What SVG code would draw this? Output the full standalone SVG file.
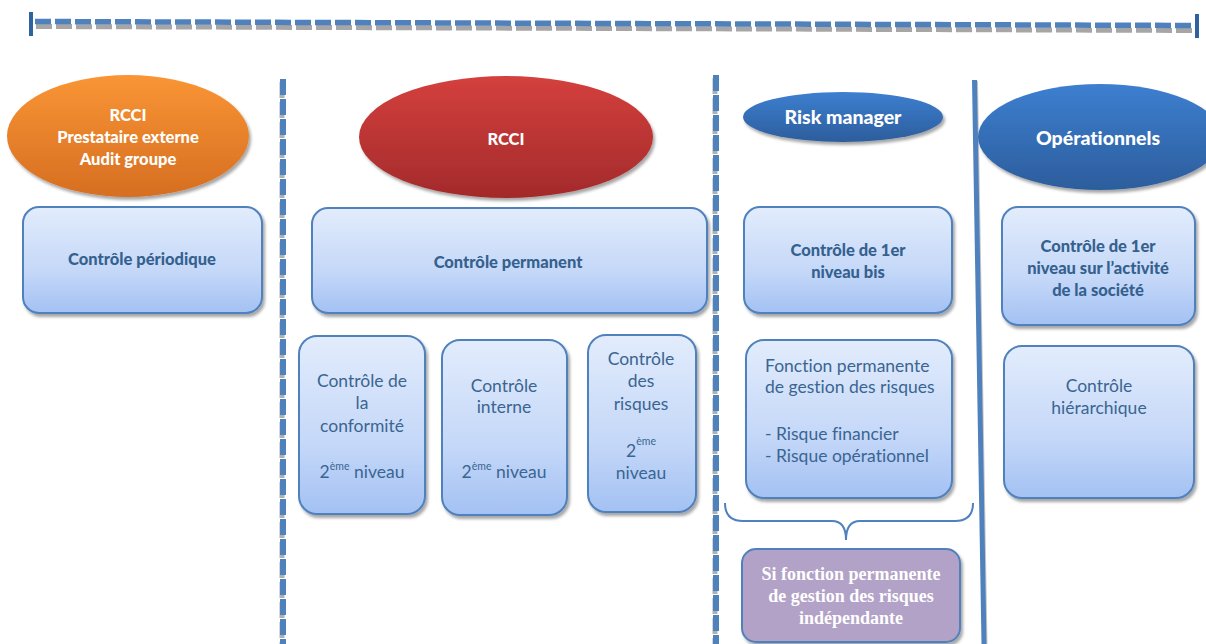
<svg xmlns="http://www.w3.org/2000/svg" width="1206" height="644" viewBox="0 0 1206 644">
<defs>
<linearGradient id="gBox" x1="0" y1="0" x2="0" y2="1"><stop offset="0" stop-color="#e2ecfc"/><stop offset="0.6" stop-color="#c5d8f8"/><stop offset="1" stop-color="#a3c1f3"/></linearGradient>
<linearGradient id="gOr" x1="0" y1="0" x2="0" y2="1"><stop offset="0" stop-color="#f99535"/><stop offset="1" stop-color="#d66e21"/></linearGradient>
<linearGradient id="gRed" x1="0" y1="0" x2="0" y2="1"><stop offset="0" stop-color="#d4403d"/><stop offset="1" stop-color="#a32a2b"/></linearGradient>
<linearGradient id="gBlue" x1="0" y1="0" x2="0" y2="1"><stop offset="0" stop-color="#3d7fd0"/><stop offset="1" stop-color="#2c5d9c"/></linearGradient>
<filter id="sh" x="-10%" y="-10%" width="125%" height="130%"><feDropShadow dx="2" dy="3" stdDeviation="1.5" flood-color="#000" flood-opacity="0.35"/></filter>
</defs>
<style>
text{font-variant-ligatures:none}
.box{fill:url(#gBox);stroke:#4f81bd;stroke-width:2;filter:url(#sh)}
.bt{font-family:Lato,"Liberation Sans",sans-serif;font-weight:900;font-size:16.5px;fill:#35618f;text-anchor:middle}
.rt{font-family:Lato,"Liberation Sans",sans-serif;font-size:17.5px;fill:#3a6592;text-anchor:middle}
.lt{font-family:Lato,"Liberation Sans",sans-serif;font-size:17.5px;fill:#3a6592;text-anchor:start}
.et{font-family:Lato,"Liberation Sans",sans-serif;font-weight:900;fill:#ffffff;text-anchor:middle}
.pt{font-family:"Liberation Serif",serif;font-weight:bold;font-size:18px;fill:#ffffff;text-anchor:middle}
.sup{font-size:10.5px}
.dash{stroke:#4f81bd;stroke-width:5.5;stroke-dasharray:16 4;fill:none}
.dsh{stroke:#a6a6a6;stroke-width:5;stroke-dasharray:16 4;fill:none}
.vdash{stroke:#4f81bd;stroke-width:6;stroke-dasharray:16 4;fill:none}
.vdsh{stroke:#b0b0b0;stroke-width:5;stroke-dasharray:16 4;fill:none}
</style>

<g id="separators">
<line class="dsh" x1="36" y1="26.5" x2="1195" y2="30.5"/>
<line class="dash" x1="35" y1="21.5" x2="1194" y2="25.5"/>
<rect x="29" y="12" width="4" height="24" fill="#2f63a0"/>
<rect x="1195" y="14" width="4" height="24" fill="#2f63a0"/>
<line class="vdsh" x1="282" y1="82" x2="282" y2="644"/>
<line class="vdash" x1="283" y1="79" x2="283" y2="644"/>
<line class="vdsh" x1="715" y1="78" x2="715" y2="644"/>
<line class="vdash" x1="716" y1="75" x2="716" y2="644"/>
<line x1="975.5" y1="81" x2="985" y2="644" stroke="#c8c8c8" stroke-width="5"/>
<line x1="974.5" y1="80" x2="984" y2="644" stroke="#4f81bd" stroke-width="5"/>
</g>

<g id="n-rcci-ext">
<ellipse cx="128" cy="136" rx="121" ry="61" fill="url(#gOr)" filter="url(#sh)"/>
<text class="et" font-size="16.5" x="128" y="121">RCCI</text>
<text class="et" font-size="16.5" x="128" y="143">Prestataire externe</text>
<text class="et" font-size="16.5" x="128" y="165">Audit groupe</text>
</g>
<g id="n-periodique">
<rect class="box" x="23" y="207" width="239" height="106" rx="16"/>
<text class="bt" x="142" y="265">Contrôle périodique</text>
</g>

<g id="n-rcci">
<ellipse cx="506" cy="137" rx="147" ry="61" fill="url(#gRed)" filter="url(#sh)"/>
<text class="et" font-size="16.5" x="506" y="145">RCCI</text>
</g>
<g id="n-permanent">
<rect class="box" x="312" y="208" width="395" height="105" rx="16"/>
<text class="bt" x="508" y="268">Contrôle permanent</text>
</g>
<g id="n-conformite">
<rect class="box" x="299" y="336" width="126" height="178" rx="18"/>
<text class="rt" x="362" y="387">Contrôle de</text>
<text class="rt" x="362" y="409">la</text>
<text class="rt" x="362" y="432">conformité</text>
<text class="rt" x="362" y="478">2<tspan class="sup" dy="-8">ème</tspan><tspan dy="8"> niveau</tspan></text>
</g>
<g id="n-interne">
<rect class="box" x="442" y="340" width="125" height="175" rx="18"/>
<text class="rt" x="504" y="392">Contrôle</text>
<text class="rt" x="504" y="413">interne</text>
<text class="rt" x="504" y="478">2<tspan class="sup" dy="-8">ème</tspan><tspan dy="8"> niveau</tspan></text>
</g>
<g id="n-risques">
<rect class="box" x="588" y="335" width="108" height="177" rx="18"/>
<text class="rt" x="641" y="365">Contrôle</text>
<text class="rt" x="641" y="387">des</text>
<text class="rt" x="641" y="410">risques</text>
<text class="rt" x="641" y="457">2<tspan class="sup" dy="-12">ème</tspan></text>
<text class="rt" x="641" y="479">niveau</text>
</g>

<g id="n-risk-manager">
<ellipse cx="843" cy="117" rx="100" ry="25" fill="url(#gBlue)" filter="url(#sh)"/>
<text class="et" font-size="19.5" x="843" y="124">Risk manager</text>
</g>
<g id="n-niveau-bis">
<rect class="box" x="744" y="207" width="208" height="106" rx="16"/>
<text class="bt" x="848" y="256">Contrôle de 1er</text>
<text class="bt" x="848" y="278">niveau bis</text>
</g>
<g id="n-fonction">
<rect class="box" x="746" y="340" width="206" height="158" rx="18"/>
<text class="lt" x="765" y="372">Fonction permanente</text>
<text class="lt" x="765" y="393">de gestion des risques</text>
<text class="lt" x="765" y="440">- Risque financier</text>
<text class="lt" x="765" y="462">- Risque opérationnel</text>
</g>
<g id="n-independante">
<rect x="742" y="549" width="218" height="93" rx="14" fill="#b3a2c7" stroke="#4f81bd" stroke-width="2" filter="url(#sh)"/>
<text class="pt" x="851" y="580">Si fonction permanente</text>
<text class="pt" x="851" y="602">de gestion des risques</text>
<text class="pt" x="851" y="624">indépendante</text>
</g>

<g id="n-operationnels">
<ellipse cx="1100" cy="137" rx="122" ry="53" fill="url(#gBlue)" filter="url(#sh)"/>
<text class="et" font-size="19.5" x="1098" y="145">Opérationnels</text>
</g>
<g id="n-activite">
<rect class="box" x="1002" y="207" width="193" height="118" rx="16"/>
<text class="bt" x="1098" y="252">Contrôle de 1er</text>
<text class="bt" x="1098" y="274">niveau sur l’activité</text>
<text class="bt" x="1098" y="296">de la société</text>
</g>
<g id="n-hierarchique">
<rect class="box" x="1004" y="346" width="190" height="152" rx="18"/>
<text class="rt" x="1099" y="392">Contrôle</text>
<text class="rt" x="1099" y="414">hiérarchique</text>
</g>

<g id="connectors">
<path d="M725,503 Q725,521 743,521 L832,521 Q846,521 846,540 Q846,521 860,521 L955,521 Q973,521 973,503" fill="none" stroke="#4f81bd" stroke-width="2"/>
</g>
</svg>
